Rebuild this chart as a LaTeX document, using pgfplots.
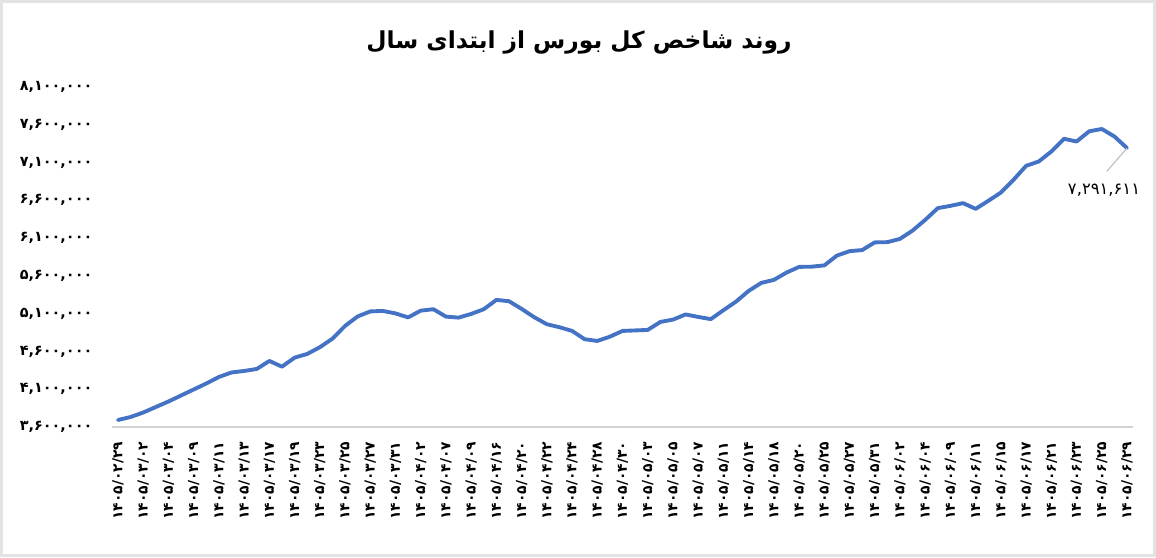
\documentclass[border=0pt]{standalone}
\usepackage{fontspec}
\setmainfont{DejaVu Sans}
\newfontfamily\arabicfont[Script=Arabic]{DejaVu Sans}
\TeXXeTstate=1
\usepackage{pgfplots}
\pgfplotsset{compat=1.18}
\definecolor{lineblue}{HTML}{4472C4}

\begin{document}
\begin{tikzpicture}
% picture frame: 1156 x 557 px at 0.75pt per px
\path[use as bounding box] (-83.8pt,-97.5pt) rectangle (783.2pt,320.25pt);
\draw[gray!22, line width=2pt] (-82.8pt,-96.5pt) rectangle (782.2pt,319.25pt);

\begin{axis}[
    name=ax, at={(0,0)}, anchor=south west,
    scale only axis, width=766.2pt, height=255pt,
    xmin=-0.5, xmax=80.5,
    ymin=3600000, ymax=8100000,
    clip=false,
    axis x line*=bottom, axis y line*=left,
    x axis line style={draw=gray!35, line width=1pt, -},
    y axis line style={draw=none},
    major tick length=0pt,
    scaled y ticks=false,
    xtick={0,2,...,80},
    xticklabels={
      {۱۴۰۵/۰۲/۲۹},{۱۴۰۵/۰۳/۰۲},{۱۴۰۵/۰۳/۰۴},{۱۴۰۵/۰۳/۰۹},{۱۴۰۵/۰۳/۱۱},
      {۱۴۰۵/۰۳/۱۳},{۱۴۰۵/۰۳/۱۷},{۱۴۰۵/۰۳/۱۹},{۱۴۰۵/۰۳/۲۳},{۱۴۰۵/۰۳/۲۵},
      {۱۴۰۵/۰۳/۲۷},{۱۴۰۵/۰۳/۳۱},{۱۴۰۵/۰۴/۰۲},{۱۴۰۵/۰۴/۰۷},{۱۴۰۵/۰۴/۰۹},
      {۱۴۰۵/۰۴/۱۶},{۱۴۰۵/۰۴/۲۰},{۱۴۰۵/۰۴/۲۲},{۱۴۰۵/۰۴/۲۴},{۱۴۰۵/۰۴/۲۸},
      {۱۴۰۵/۰۴/۳۰},{۱۴۰۵/۰۵/۰۳},{۱۴۰۵/۰۵/۰۵},{۱۴۰۵/۰۵/۰۷},{۱۴۰۵/۰۵/۱۱},
      {۱۴۰۵/۰۵/۱۴},{۱۴۰۵/۰۵/۱۸},{۱۴۰۵/۰۵/۲۰},{۱۴۰۵/۰۵/۲۵},{۱۴۰۵/۰۵/۲۷},
      {۱۴۰۵/۰۵/۳۱},{۱۴۰۵/۰۶/۰۲},{۱۴۰۵/۰۶/۰۴},{۱۴۰۵/۰۶/۰۹},{۱۴۰۵/۰۶/۱۱},
      {۱۴۰۵/۰۶/۱۵},{۱۴۰۵/۰۶/۱۷},{۱۴۰۵/۰۶/۲۱},{۱۴۰۵/۰۶/۲۳},{۱۴۰۵/۰۶/۲۵},
      {۱۴۰۵/۰۶/۲۹}},
    ytick={3600000,4100000,4600000,5100000,5600000,6100000,6600000,7100000,7600000,8100000},
    yticklabels={{۳,۶۰۰,۰۰۰},{۴,۱۰۰,۰۰۰},{۴,۶۰۰,۰۰۰},{۵,۱۰۰,۰۰۰},{۵,۶۰۰,۰۰۰},
      {۶,۱۰۰,۰۰۰},{۶,۶۰۰,۰۰۰},{۷,۱۰۰,۰۰۰},{۷,۶۰۰,۰۰۰},{۸,۱۰۰,۰۰۰}},
    x tick label style={yshift=-7.5pt, rotate=90, anchor=east,
      font=\arabicfont\bfseries\fontsize{10.4}{12}\selectfont},
    y tick label style={anchor=east, xshift=-11pt,
      font=\arabicfont\bfseries\fontsize{10.8}{12}\selectfont},
]
\addplot[lineblue, line width=2.9pt, line join=round, line cap=round] coordinates {
 (0,3692700) (1,3732450) (2,3792050) (3,3864900) (4,3937750)
 (5,4017200) (6,4096700) (7,4176150) (8,4262250) (9,4321850)
 (10,4341700) (11,4368200) (12,4474150) (13,4398650) (14,4517900)
 (15,4566900) (16,4655600) (17,4769500) (18,4937750) (19,5063550)
 (20,5129800) (21,5136400) (22,5103300) (23,5050300) (24,5140400)
 (25,5158900) (26,5060900) (27,5047700) (28,5096700) (29,5158900)
 (30,5282100) (31,5264900) (32,5162900) (33,5053000) (34,4960250)
 (35,4920500) (36,4871500) (37,4761600) (38,4739050) (39,4796000)
 (40,4871500) (41,4878150) (42,4884750) (43,4990700) (44,5021200)
 (45,5090050) (46,5056950) (47,5027800) (48,5145700) (49,5259600)
 (50,5401300) (51,5507300) (52,5547000) (53,5643700) (54,5719200)
 (55,5722000) (56,5739050) (57,5868850) (58,5927150) (59,5941700)
 (60,6043700) (61,6046350) (62,6090050) (63,6200000) (64,6341700)
 (65,6496700) (66,6527150) (67,6562900) (68,6487400) (69,6593350)
 (70,6703300) (71,6871500) (72,7056950) (73,7113900) (74,7246350)
 (75,7414550) (76,7378800) (77,7513900) (78,7544350) (79,7445000)
 (80,7291611)
};
% data label for the last point
\draw[gray!55, line width=0.8pt] (axis cs:80,7291611) -- ++(-15.2pt,-17.5pt);
\node[xshift=-17.25pt, yshift=-31.3pt,
  font=\arabicfont\fontsize{12.3}{14}\selectfont] at (axis cs:80,7291611) {۷,۲۹۱,۶۱۱};
\end{axis}

\node[font=\arabicfont\bfseries\fontsize{17.5}{20}\selectfont] at (350.4pt,288.75pt)
  {\beginR روند شاخص کل بورس از ابتدای سال\endR};
\end{tikzpicture}
\end{document}
